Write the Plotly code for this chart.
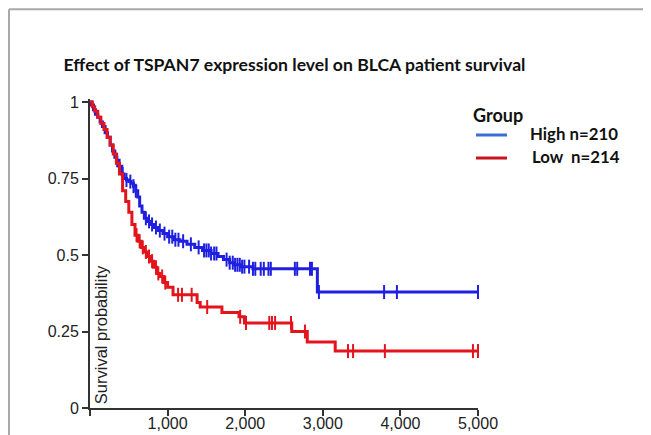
import numpy as np
import plotly.graph_objects as go

# ---- data (days, survival probability) ----
high_time = [0, 20, 45, 70, 100, 130, 160, 195, 225, 260, 290, 320, 345, 375, 410, 440, 470, 500, 530, 560,
             590, 615, 640, 670, 700, 740, 780, 830, 880, 940, 1000, 1080, 1160, 1250, 1350, 1450, 1560,
             1650, 1720, 1800, 1850, 1950, 2100, 2930]
high_surv = [1.0, 0.99, 0.975, 0.96, 0.95, 0.935, 0.92, 0.90, 0.885, 0.86, 0.84, 0.82, 0.81, 0.79, 0.765,
             0.75, 0.745, 0.74, 0.735, 0.725, 0.71, 0.69, 0.66, 0.64, 0.62, 0.61, 0.60, 0.59, 0.58, 0.57,
             0.56, 0.55, 0.545, 0.535, 0.525, 0.515, 0.505, 0.495, 0.485, 0.475, 0.468, 0.462, 0.455, 0.379]
high_censor = [350, 420, 470, 520, 560, 590, 720, 760, 800, 850, 900, 960, 1020, 1060, 1100, 1140, 1200,
               1300, 1400, 1470, 1500, 1530, 1560, 1600, 1630, 1760, 1800, 1840, 1870, 1900, 1930, 1960,
               1990, 2050, 2100, 2130, 2200, 2240, 2300, 2330, 2640, 2670, 2835, 2860, 2950, 3790, 3955, 5000]

low_time = [0, 30, 60, 100, 140, 180, 220, 260, 300, 340, 380, 420, 460, 500, 540, 580, 620, 660, 700,
            740, 780, 820, 860, 900, 950, 1000, 1070, 1380, 1420, 1700, 1920, 1990, 2600, 2800, 3160]
low_surv = [1.0, 0.985, 0.97, 0.95, 0.93, 0.91, 0.885, 0.86, 0.83, 0.80, 0.765, 0.71, 0.675, 0.64, 0.60,
            0.565, 0.545, 0.525, 0.51, 0.495, 0.48, 0.46, 0.44, 0.43, 0.41, 0.395, 0.37, 0.345, 0.33,
            0.312, 0.298, 0.278, 0.25, 0.216, 0.186]
low_censor = [600, 640, 680, 720, 760, 800, 850, 880, 930, 970, 1135, 1185, 1310, 1510, 1935, 2010,
              2310, 2345, 2385, 2590, 2770, 3325, 3390, 3800, 4935, 5000]

follow_up_end = 5000
groups = ["High n=210", "Low\u00a0 n=214"]
colors = ["#1f1fe0", "#e3141c"]
legend_colors = ["#3b6fd6", "#c8141c"]

x_ticks = [0, 1000, 2000, 3000, 4000, 5000]
x_ticktext = ["", "1,000", "2,000", "3,000", "4,000", "5,000"]
y_ticks = [0, 0.25, 0.5, 0.75, 1]
y_ticktext = ["0", "0.25", "0.5", "0.75", "1"]


def surv_at(times, survs, c):
    idx = np.searchsorted(np.array(times), np.array(c), side="right") - 1
    return np.array(survs)[idx]


fig = go.Figure()
series = [(high_time, high_surv, high_censor), (low_time, low_surv, low_censor)]
for (t, s, cens), name, col in zip(series, groups, colors):
    fig.add_trace(go.Scatter(
        x=list(t) + [follow_up_end], y=list(s) + [s[-1]], mode="lines",
        line=dict(color=col, width=3, shape="hv"), name=name, showlegend=False))
    fig.add_trace(go.Scatter(
        x=cens, y=surv_at(t, s, cens), mode="markers", showlegend=False, cliponaxis=False,
        marker=dict(symbol="line-ns", size=10, line=dict(color=col, width=2))))

axis_col = "#333333"
common_axis = dict(ticks="outside", ticklen=6, tickwidth=2, tickcolor=axis_col, showline=True,
                   linecolor=axis_col, linewidth=2, showgrid=False, zeroline=False, automargin=False,
                   tickfont=dict(family="Liberation Sans", size=16, color="#222222"))
fig.update_xaxes(range=[0, 5000], tickvals=x_ticks, ticktext=x_ticktext, ticklabelstandoff=-6,
                 **common_axis)
fig.update_yaxes(range=[0, 1.01], tickvals=y_ticks, ticktext=y_ticktext, **common_axis)

fig.add_annotation(text="Survival probability", xref="paper", yref="paper", x=0.028, y=0.007,
                   xanchor="center", yanchor="bottom", textangle=-90, showarrow=False,
                   font=dict(family="Liberation Sans", size=16.5, color="#222222"))

# manual legend (paper coords: plot area is 388 x 309 px)
fig.add_annotation(text="<b>Group</b>", xref="paper", yref="paper", x=0.982, y=0.948,
                   xanchor="left", yanchor="middle", showarrow=False,
                   font=dict(family="Lato", size=18, color="#111111"))
for i, (name, col) in enumerate(zip(groups, legend_colors)):
    ly = [0.8835, 0.809][i]
    fig.add_shape(type="line", xref="paper", yref="paper", x0=0.9948, x1=1.0747, y0=ly, y1=ly,
                  line=dict(color=col, width=3))
    fig.add_annotation(text="<b>" + name + "</b>", xref="paper", yref="paper",
                       x=[1.1289, 1.134][i], y=ly + 0.005, xanchor="left", yanchor="middle",
                       showarrow=False, font=dict(family="Lato", size=16.8, color="#111111"))

# outer frame lines of the original figure
frame = dict(color="#a8a8a8", width=2)
fig.add_shape(type="line", xref="paper", yref="paper", x0=-0.2088, x1=1.45, y0=1.2905, y1=1.2905, line=frame)
fig.add_shape(type="line", xref="paper", yref="paper", x0=-0.2088, x1=-0.2088, y0=1.2905, y1=-0.1, line=frame)

# the page body adds an 8 px offset, so the figure is 8 px smaller and margins compensate
fig.update_layout(
    template="none",
    width=643, height=427, autosize=False, showlegend=False,
    margin=dict(l=82, r=173, t=91, b=27),
    plot_bgcolor="white", paper_bgcolor="white",
    title=dict(text="<b>Effect of TSPAN7 expression level on BLCA patient survival</b>",
               xref="container", x=0.4456, xanchor="center", yref="container", y=0.8665, yanchor="middle",
               font=dict(family="Lato", size=17.6, color="#111111")),
)

fig.write_html("out.html")
